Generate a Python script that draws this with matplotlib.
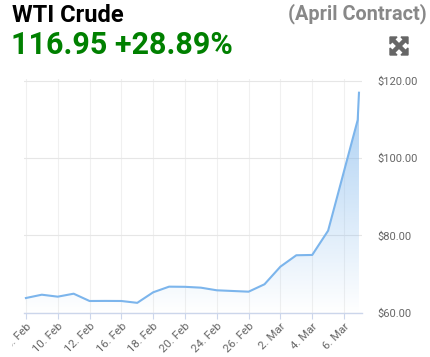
import numpy as np
import matplotlib
matplotlib.use("Agg")
import matplotlib.pyplot as plt
from matplotlib.patches import Polygon, Rectangle

# trading-day positions (last two points are intraday on the final day)
days = [0, 1, 2, 3, 4, 5, 6, 7, 8, 9, 10, 11, 12, 13, 14, 15, 16, 17, 18, 19, 20.86, 20.94]
prices = [63.8, 64.66, 64.15, 64.92, 63.03, 63.05, 63.03, 62.55, 65.28, 66.74, 66.7,
          66.48, 65.8, 65.62, 65.44, 67.36, 71.92, 74.87, 74.95, 81.24, 109.9, 116.95]

tick_pos = [0, 2, 4, 6, 8, 10, 12, 14, 16, 18, 20]
tick_labels = ["8. Feb", "10. Feb", "12. Feb", "16. Feb", "18. Feb", "20. Feb",
               "24. Feb", "26. Feb", "2. Mar", "4. Mar", "6. Mar"]
y_ticks = [60, 80, 100, 120]

W, H = 431, 357
fig = plt.figure(figsize=(W / 100, H / 100), dpi=100)
plt.rcParams['font.family'] = ['Roboto', 'DejaVu Sans']

x0, x1, ytop, ybot = 24, 362, 79, 312.7
ax = fig.add_axes([x0 / W, 1 - ybot / H, (x1 - x0) / W, (ybot - ytop) / H])
ax.set_xlim(-0.12, 21.13)
ax.set_ylim(60, 120.5)

line_col = "#7cb5ec"

# gradient fill under the line
poly = ax.fill_between(days, prices, 60, color="none")
grad = np.linspace(0, 1, 256).reshape(-1, 1)
rgba = np.zeros((256, 1, 4))
rgba[..., 0] = 124 / 255
rgba[..., 1] = 181 / 255
rgba[..., 2] = 236 / 255
rgba[..., 3] = 0.7 * grad
im = ax.imshow(rgba, extent=[-0.12, 21.13, 60, 120.5], origin="lower",
               aspect="auto", zorder=1)
path = poly.get_paths()[0]
im.set_clip_path(path, transform=ax.transData)
ax.plot(days, prices, color=line_col, lw=1.5, zorder=3, solid_joinstyle="round")

# axes styling
for s in ["top", "right", "left"]:
    ax.spines[s].set_visible(False)
ax.spines["bottom"].set_color("#ccd6eb")
ax.spines["bottom"].set_linewidth(1)

ax.set_xticks(tick_pos)
ax.set_xticklabels(tick_labels, rotation=45, ha="right", rotation_mode="anchor",
                   fontsize=8.2, color="#666666")
ax.tick_params(axis="x", length=4, color="#ccd6eb", pad=2)
ax.grid(axis="x", color="#f0f0f0", lw=0.8)

# the first label is cut off at the left edge of the chart container
clip = Rectangle((12, 0), W, H, transform=None)
first = ax.get_xticklabels()[0]
first.set_clip_on(True)
first.set_clip_path(clip)

ax.yaxis.tick_right()
ax.set_yticks(y_ticks)
ax.set_yticklabels(["$%.2f" % v for v in y_ticks], fontsize=8, color="#666666")
ax.tick_params(axis="y", length=0, pad=11)
ax.grid(axis="y", color="#e6e6e6", lw=0.8)
ax.set_axisbelow(True)

# header overlay in pixel coordinates
ov = fig.add_axes([0, 0, 1, 1], zorder=5)
ov.set_xlim(0, W)
ov.set_ylim(H, 0)
ov.axis("off")
ov.patch.set_alpha(0)

ov.text(12, 16, "WTI Crude", fontsize=17, fontweight="bold", color="black",
        va="center", ha="left")
ov.text(11, 45, "116.95 +28.89%", fontsize=22, fontweight="bold", color="#008000",
        va="center", ha="left")
ov.text(427, 14, "(April Contract)", fontsize=14.3, fontweight="bold", color="#888888",
        va="center", ha="right")

# expand icon
cx, cy, s = 399, 46, 9
for dx in (-1, 1):
    for dy in (-1, 1):
        tip = (cx + s * dx, cy + s * dy)
        head = Polygon([tip, (tip[0] - 7 * dx, tip[1]), (tip[0], tip[1] - 7 * dy)],
                       closed=True, color="#666666")
        ov.add_patch(head)
        ov.plot([cx, tip[0] - 2 * dx], [cy, tip[1] - 2 * dy], color="#666666",
                lw=3.2, solid_capstyle="butt")

fig.savefig("out.png", dpi=100)
